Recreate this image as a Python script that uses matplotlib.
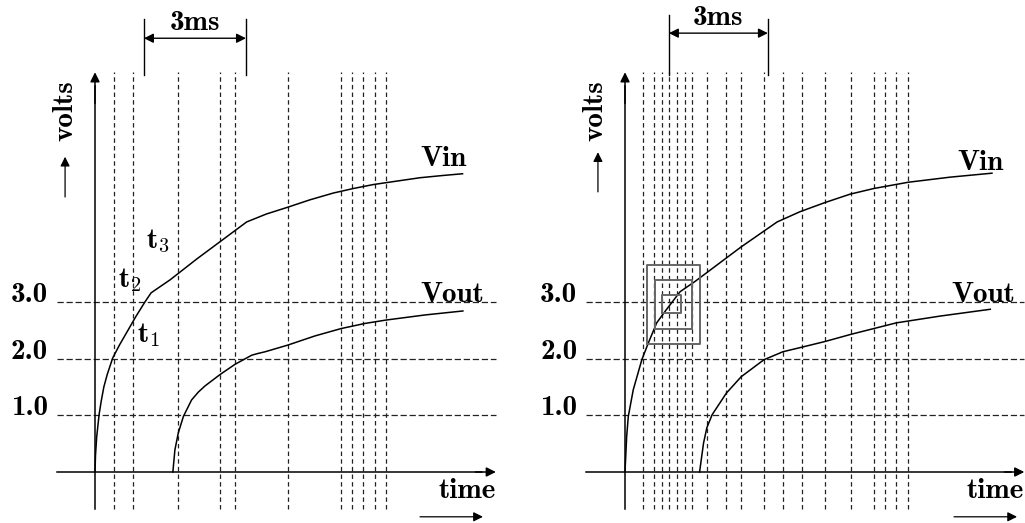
import numpy as np
import matplotlib.pyplot as plt

# Two sketches of Vin / Vout charging curves with sampling instants (dashed)
plt.rcParams['font.family'] = 'cmb10'
plt.rcParams['mathtext.fontset'] = 'cm'
plt.rcParams['lines.scale_dashes'] = False

volt_levels = [1.0, 2.0, 3.0]
level_labels = ['1.0', '2.0', '3.0']

# left panel: time in ms, voltage in V
left_marks = [0.56, 1.12, 2.44, 3.68, 4.12, 5.68, 7.24, 7.56, 7.88, 8.24, 8.56]
left_vin_t = [0, 0.015, 0.05, 0.12, 0.18, 0.26, 0.36, 0.52, 0.72, 0.97, 1.20, 1.47,
              1.65, 2.21, 3.00, 4.46, 5.04, 5.67, 6.32, 7.01, 7.60, 8.19, 8.87,
              9.56, 10.24, 10.81]
left_vin_v = [0, 0.30, 0.62, 1.01, 1.24, 1.50, 1.72, 2.01, 2.24, 2.50, 2.74, 3.00,
              3.16, 3.39, 3.76, 4.41, 4.55, 4.67, 4.80, 4.92, 5.00, 5.07, 5.13,
              5.19, 5.23, 5.26]
left_vout_t = [2.29, 2.35, 2.45, 2.60, 2.84, 3.04, 3.24, 3.68, 4.12, 4.61, 4.79,
               5.00, 5.68, 6.47, 7.24, 7.94, 8.56, 9.71, 10.82]
left_vout_v = [0, 0.39, 0.69, 0.98, 1.27, 1.41, 1.52, 1.72, 1.90, 2.06, 2.09,
               2.12, 2.24, 2.40, 2.53, 2.62, 2.68, 2.77, 2.84]

# right panel
right_marks = [0.55, 0.89, 1.12, 1.34, 1.58, 1.82, 2.04, 2.49, 3.07, 3.52, 4.21,
               4.78, 5.35, 6.05, 6.86, 7.54, 7.89, 8.22, 8.58]
right_vin_t = [0, 0.05, 0.10, 0.25, 0.51, 0.71, 0.96, 1.21, 1.42, 1.67, 2.12, 3.52,
               4.61, 5.30, 6.05, 6.82, 7.54, 8.58, 9.85, 11.12]
right_vin_v = [0, 0.62, 0.98, 1.45, 1.98, 2.28, 2.63, 2.83, 2.99, 3.18, 3.36, 3.97,
               4.41, 4.59, 4.75, 4.90, 5.00, 5.11, 5.20, 5.27]
right_vout_t = [2.26, 2.38, 2.48, 2.64, 3.07, 3.52, 4.21, 4.66, 4.78, 5.35, 6.05,
                6.86, 7.54, 8.22, 9.55, 11.07]
right_vout_v = [0, 0.51, 0.78, 1.01, 1.39, 1.68, 1.98, 2.09, 2.12, 2.20, 2.30,
                2.43, 2.53, 2.63, 2.75, 2.87]
# nested search windows around t2 (t_min, t_max, v_min, v_max)
boxes = [(0.67, 2.27, 2.26, 3.65), (0.91, 2.03, 2.52, 3.39), (1.12, 1.70, 2.80, 3.12)]

fig = plt.figure(figsize=(10.25, 5.23), dpi=100)

px_v = 56.7
ylim = (-51 / px_v, 472 / px_v)
vdash = (0, (3.2, 2.3))
hdash = (0, (4.5, 2.0))
FS = 21


def arrow(ax, start, end, style='-|>', lw=1.0, color='k'):
    ax.annotate('', xy=end, xytext=start,
                arrowprops=dict(arrowstyle=style, color=color, lw=lw,
                                mutation_scale=14, shrinkA=0, shrinkB=0))


def draw_panel(ax, marks, vin, vout, lay):
    ax.set_xlim(*lay['xlim'])
    ax.set_ylim(*ylim)
    ax.axis('off')
    x_lo, x_hi = lay['x_ext']
    ax.vlines(marks, -0.65, 7.05, colors='#222222', lw=0.9, linestyles=vdash)
    ax.hlines(volt_levels, x_lo, x_hi, colors='#222222', lw=0.9, linestyles=hdash)
    ax.plot(vin[0], vin[1], color='k', lw=1.1)
    ax.plot(vout[0], vout[1], color='k', lw=1.1)
    # axes
    ax.plot([0, 0], [-0.65, 6.8], color='k', lw=1.1)
    arrow(ax, (0, 6.5), (0, 7.05), lw=1.1)
    ax.plot([x_lo, x_hi - 0.4], [0, 0], color='k', lw=1.1)
    arrow(ax, (x_hi - 0.6, 0), (x_hi, 0), lw=1.1)
    for v, lab in zip(volt_levels, level_labels):
        ax.text(lay['lab_x'], v, lab, ha='right', va='baseline', fontsize=FS)
    # axis captions
    ax.text(lay['volts_x'], 6.38, 'volts', rotation=90, ha='center', va='center',
            fontsize=FS)
    arrow(ax, (lay['volts_arrow_x'], lay['volts_arrow'][0]),
          (lay['volts_arrow_x'], lay['volts_arrow'][1]), lw=0.9)
    ax.text(x_hi, -0.46, 'time', ha='right', va='baseline', fontsize=FS)
    arrow(ax, (lay['time_arrow'][0], -0.79), (lay['time_arrow'][1], -0.79), lw=0.9)
    ax.text(lay['vin_lab'][0], lay['vin_lab'][1], 'Vin', ha='center', va='baseline',
            fontsize=FS)
    ax.text(lay['vout_lab'][0], 3.0, 'Vout', ha='center', va='baseline', fontsize=FS)
    # 3ms bracket
    b0, b1 = lay['bracket']
    ax.plot([b0, b0], [7.0, lay['bracket_top'][0]], color='k', lw=1.0)
    ax.plot([b1, b1], [7.0, lay['bracket_top'][1]], color='k', lw=1.0)
    arrow(ax, (b0, lay['bracket_y']), (b1, lay['bracket_y']), style='<|-|>', lw=1.0)
    ax.text((b0 + b1) / 2, lay['bracket_y'] + 0.15, '3ms', ha='center',
            va='baseline', fontsize=FS)


ax_l = fig.add_axes([0, 0, 1, 1])
ax_l.patch.set_alpha(0)
draw_panel(ax_l, left_marks, (left_vin_t, left_vin_v), (left_vout_t, left_vout_v),
           dict(xlim=(-95 / 34, 930 / 34), x_ext=(-1.12, 11.79), lab_x=-1.38,
                volts_x=-0.88, volts_arrow_x=-0.88, volts_arrow=(4.85, 5.56),
                time_arrow=(9.56, 11.41), vin_lab=(10.24, 5.40), vout_lab=(10.5,),
                bracket=(1.44, 4.44), bracket_top=(7.99, 7.99), bracket_y=7.65))
for lab, t, v in [('3', 1.5, 3.95), ('2', 0.68, 3.26), ('1', 1.24, 2.29)]:
    ax_l.text(t, v, r'$\mathbf{t}_' + lab + '$', ha='left', va='baseline',
              fontsize=FS)

ax_r = fig.add_axes([0, 0, 1, 1])
ax_r.patch.set_alpha(0)
draw_panel(ax_r, right_marks, (right_vin_t, right_vin_v), (right_vout_t, right_vout_v),
           dict(xlim=(-625 / 33, 400 / 33), x_ext=(-1.18, 12.1), lab_x=-1.45,
                volts_x=-0.91, volts_arrow_x=-0.82, volts_arrow=(4.94, 5.64),
                time_arrow=(9.97, 11.88), vin_lab=(10.76, 5.33), vout_lab=(10.85,),
                bracket=(1.33, 4.33), bracket_top=(8.06, 7.99), bracket_y=7.74))
for t0, t1, v0, v1 in boxes:
    ax_r.plot([t0, t1, t1, t0, t0], [v0, v0, v1, v1, v0], color='#666666', lw=1.4)

fig.savefig('out.png', dpi=100)
